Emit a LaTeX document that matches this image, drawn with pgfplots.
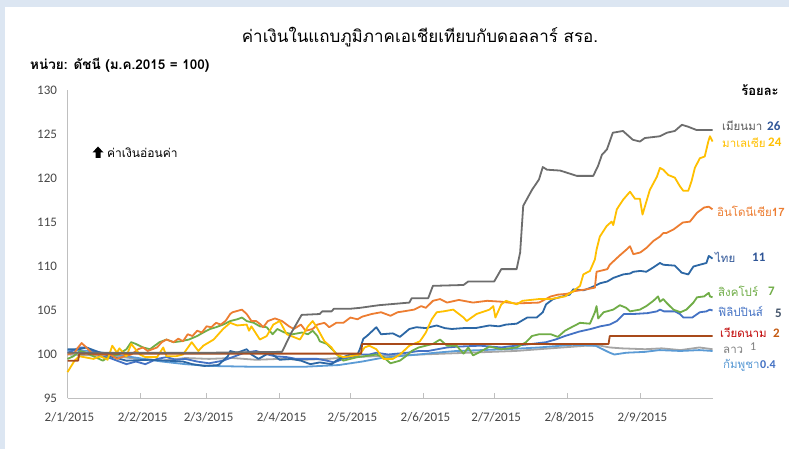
\documentclass[border=0pt]{standalone}
\usepackage{pgfplots}
\pgfplotsset{compat=1.18}
\usepackage{fontspec}
\setmainfont{Carlito}
\newfontfamily\thai[Script=Thai]{Loma}
\definecolor{bgblue}{HTML}{DCE6F2}
\definecolor{cMM}{HTML}{6D6D6D}
\definecolor{cMY}{HTML}{FFC000}
\definecolor{cID}{HTML}{ED7D31}
\definecolor{cTH}{HTML}{2C67A5}
\definecolor{cSG}{HTML}{70AD47}
\definecolor{cPH}{HTML}{4472C4}
\definecolor{cVN}{HTML}{A84A1A}
\definecolor{cLA}{HTML}{A5A5A5}
\definecolor{cKH}{HTML}{5B9BD5}
\definecolor{tMM}{HTML}{595959}
\definecolor{tDB}{HTML}{2F5597}
\definecolor{tVN}{HTML}{C00000}
\definecolor{tVN2}{HTML}{C55A11}
\definecolor{tPH}{HTML}{44546A}
\definecolor{tLA}{HTML}{7F7F7F}
\definecolor{axgray}{HTML}{BFBFBF}
\begin{document}
\begin{tikzpicture}[x=1pt,y=1pt]
\fill[bgblue] (0,0) rectangle (789,449);
\fill[white] (5,0) rectangle (789,442);
\begin{axis}[
  at={(67.5pt,50.5pt)}, anchor=south west,
  scale only axis, width=645.5pt, height=308pt,
  xmin=0, xmax=273.8, ymin=95, ymax=130,
  axis x line=bottom, axis y line=left,
  axis line style={draw=axgray, line width=0.9pt, -},
  xtick={0,31,59,90,120,151,181,212,243},
  xticklabels={2/1/2015,2/2/2015,2/3/2015,2/4/2015,2/5/2015,2/6/2015,2/7/2015,2/8/2015,2/9/2015},
  ytick={95,100,...,130},
  /pgf/number format/assume math mode=true,
  tick label style={font=\fontsize{13}{13}\selectfont, text=black!72},
  xticklabel style={yshift=-10pt, xshift=2pt},
  yticklabel style={xshift=-7pt},
  x tick style={draw=axgray, line width=0.8pt},
  major tick length=5pt, tick align=inside,
  y tick style={draw=none},
  clip=false,
  every axis plot/.append style={line width=1.8pt, line join=round, mark=none},
]
% Lao
\addplot[cLA] coordinates {(0,100.0)(10,99.9)(20,99.8)(30,99.5)(40,99.3)(50,99.6)(60,99.5)(70,99.6)(80,99.4)(90,99.5)(100,99.4)(110,99.5)(120,99.7)(130,99.8)(140,99.9)(150,100.0)(160,100.1)(170,100.2)(180,100.3)(190,100.4)(200,100.6)(210,100.8)(220,101.0)(226,101.0)(230,100.8)(235,100.7)(245,100.6)(252,100.7)(260,100.5)(268,100.8)(273.6,100.6)};
% Cambodia
\addplot[cKH] coordinates {(0,100.5)(10,100.4)(20,100.0)(30,99.6)(40,99.2)(50,98.9)(60,98.7)(80,98.6)(100,98.6)(115,98.8)(125,99.2)(133,99.6)(140,99.8)(149,100.0)(156,100.2)(165,100.4)(186,100.6)(200,100.8)(214,101.1)(224,101.0)(227,100.6)(230,100.2)(232,100.0)(237,100.2)(245,100.3)(251,100.5)(260,100.4)(268,100.5)(273.6,100.4)};
% Philippines
\addplot[cPH] coordinates {(0,100.2)(3,100.5)(5,100.8)(8,100.8)(11,100.4)(14,99.8)(18,99.6)(21,99.3)(25,98.9)(29,99.2)(33,98.9)(38,99.5)(42,99.7)(46,99.4)(50,99.5)(55,99.2)(60,99.0)(66,99.3)(70,99.7)(75,100.2)(80,100.4)(85,100.0)(88,99.8)(93,99.7)(97,99.5)(102,99.5)(106,99.5)(110,99.3)(113,99.1)(117,99.5)(120,99.7)(124,100.0)(128,100.0)(131,100.2)(136,100.0)(144,100.2)(149,100.4)(153,100.4)(157,100.6)(161,100.8)(166,100.9)(175,101.0)(184,100.8)(190,101.0)(197,101.2)(203,101.4)(207,101.7)(211,102.1)(217,102.6)(222,102.9)(226,103.2)(230,103.4)(233,103.8)(236,104.6)(240,104.6)(246,104.7)(250,104.9)(251.3,105.1)(253,104.9)(257.6,104.9)(259.8,104.6)(261.2,104.2)(265,104.2)(268.2,104.8)(271,104.9)(272.5,105.1)(273.6,105.0)};
% Singapore
\addplot[cSG] coordinates {(0,99.5)(2.5,99.8)(5.3,100.4)(8,100.2)(11,99.8)(15,99.3)(18,99.8)(21.5,100.0)(25,100.6)(27,101.4)(29,101.2)(32,100.8)(35,100.6)(39,101.4)(42,101.7)(45,101.4)(48,101.5)(51.5,101.7)(55,102.1)(57.6,102.5)(60.5,102.9)(63,103.1)(66,103.4)(69,103.8)(72,104.0)(74,104.2)(76,103.8)(79,103.6)(81.6,103.2)(84.5,103.1)(87,102.3)(89,102.9)(92,102.5)(95.5,102.3)(99.5,102.5)(102,102.3)(104,102.7)(106,102.1)(107,101.5)(110,101.2)(113,100.4)(115,99.8)(117,99.3)(120,99.5)(123,99.7)(126,99.8)(131,100.0)(134,99.7)(137,99.0)(141,99.3)(143.5,99.8)(146,100.4)(149,100.8)(152,101.0)(155,101.2)(158,101.7)(161,101.0)(165,101.0)(168,100.1)(170,100.8)(172,99.9)(175,100.3)(179,100.9)(184,100.6)(190.5,100.8)(194.5,101.4)(197,102.1)(200,102.3)(205,102.3)(208,102.0)(211,102.7)(214.5,103.2)(217.4,103.6)(221.6,103.5)(223.7,104.8)(224.4,105.5)(225.1,104.1)(227.4,104.8)(231.5,105.1)(234.3,105.6)(237,105.3)(238.6,104.9)(242.8,105.1)(245.5,105.5)(248.5,106.1)(250.5,106.6)(251.3,106.0)(252.7,106.3)(254,105.9)(257,105.1)(260,104.8)(262.5,105.1)(265.5,105.9)(267,106.5)(270,106.6)(272,107.0)(272.5,106.6)(273.6,106.5)};
% Thailand
\addplot[cTH] coordinates {(0,100.6)(5,100.6)(8,100.8)(11,100.5)(14,100.2)(18,99.8)(25,99.3)(35,99.4)(42,99.3)(49,99.2)(53,98.9)(58,98.7)(64,98.8)(68,99.8)(69,100.4)(72,100.2)(76,100.6)(78,100.0)(81,99.5)(85,100.1)(87,100.0)(90,99.4)(95,99.5)(99,99.3)(103,98.9)(107,99.1)(112,98.9)(114,99.3)(117,99.7)(120,100.0)(123,100.0)(124,100.6)(125.5,101.8)(127,102.1)(131,103.1)(133,102.3)(138,102.4)(141,102.0)(145,102.9)(148,103.1)(152,103.0)(156.6,103.3)(160,103.0)(163,102.9)(168,103.0)(173,103.0)(179,103.3)(183,103.2)(186,103.4)(190.5,103.5)(195,104.2)(199,104.2)(201.6,104.8)(203,105.7)(206,106.3)(210,106.6)(213,106.8)(214.5,107.4)(219,107.3)(222,107.6)(226,108.1)(229,108.3)(231.5,108.7)(235.7,109.1)(238.6,109.2)(240,109.4)(243,109.5)(245.5,109.4)(248.5,109.9)(251.3,110.4)(252.7,110.2)(257.6,110.1)(260.5,109.3)(263.3,109.1)(265.5,110.0)(268.2,110.2)(271,110.4)(272,111.2)(273.6,110.9)};
% Indonesia
\addplot[cID] coordinates {(0,100.0)(3,100.2)(4.5,100.8)(6,101.3)(8,100.8)(11,100.0)(18,100.0)(21,99.5)(24,99.8)(27,100.0)(30,100.6)(32,100.8)(34,100.4)(38,100.8)(40,101.4)(42,101.7)(45,101.4)(47,101.8)(49,101.5)(51,102.3)(53,102.1)(55,102.7)(57,102.5)(59,103.2)(61,103.1)(63,103.6)(65,103.4)(67,103.8)(69,104.6)(70,104.8)(74,105.1)(76,104.6)(78,103.8)(80,103.8)(82,103.4)(83,103.1)(85,103.8)(88,104.1)(91,103.8)(94,103.2)(96,102.9)(99,103.4)(101,102.7)(104,102.9)(106,103.4)(109,103.6)(111,103.1)(114,103.6)(117,103.6)(120,104.2)(123,104.0)(125,104.3)(129,104.6)(133,104.8)(137,104.4)(140,104.8)(142.5,104.9)(147,105.1)(150,105.5)(152,105.3)(155,106.1)(158,106.3)(161,105.9)(166,106.2)(172,105.9)(178,106.1)(184,106.0)(190,105.8)(200,105.9)(205,106.6)(208,106.8)(212,106.9)(215,107.2)(220,107.4)(223.7,107.6)(224.4,109.4)(229,109.7)(230,110.2)(234,111.2)(237,111.9)(238.6,112.3)(240,111.4)(243,111.6)(245.5,112.1)(248.5,112.9)(251.3,113.4)(252.7,113.8)(254,113.8)(257,114.2)(261,115.0)(264,115.1)(267,116.1)(270,116.7)(272,116.8)(272.5,116.7)(273.6,116.5)};
% Malaysia
\addplot[cMY] coordinates {(0,98.0)(3,99.3)(5,99.8)(11,99.5)(14,99.8)(17,99.4)(19,101.0)(21,100.2)(22,100.7)(25,99.8)(27,101.2)(30.7,100.0)(33,99.7)(38,99.7)(40.6,100.8)(42,99.8)(46,99.8)(49,100.0)(52.7,101.4)(55.5,100.4)(57.6,101.0)(62,101.7)(66,102.9)(69,103.6)(72,103.3)(76,103.4)(77,102.7)(78,103.2)(81.6,101.7)(84.5,102.1)(87.3,103.4)(90,103.8)(93,102.3)(98.6,101.7)(102,103.2)(104,103.8)(105.7,103.1)(109,101.5)(112,100.8)(114,100.0)(117,99.7)(120,99.8)(124,100.0)(126,100.8)(128,101.0)(131,100.6)(134,99.5)(138,99.5)(141,100.0)(145,101.0)(149.5,101.5)(152,102.5)(154.5,104.0)(156.6,104.8)(159.4,104.9)(163.6,105.1)(168,104.2)(169.3,103.8)(173.5,104.6)(179,105.1)(180.6,105.5)(181.5,104.2)(184,105.7)(186,106.1)(190.5,105.7)(193,106.1)(200,106.3)(205,106.3)(211,106.6)(214.5,107.2)(217.4,107.8)(218.8,109.1)(221.6,109.5)(223.7,110.8)(224.4,111.9)(225.8,113.4)(228.7,114.6)(230.8,115.1)(231.5,114.7)(233,116.5)(235.7,117.6)(238.6,118.5)(240.7,117.7)(242.8,117.7)(243.9,115.9)(244.9,116.8)(247,118.7)(250,120.2)(251.3,121.2)(252.7,121.0)(254.8,120.4)(257.6,120.1)(259.8,119.1)(261.2,118.6)(263.3,118.6)(264.7,119.7)(266.1,121.2)(268.2,122.3)(270.3,122.5)(271.8,124.2)(272.5,124.8)(273.6,124.2)};
% Vietnam
\addplot[cVN] coordinates {(0,99.3)(4.5,99.3)(5,100.1)(124.5,100.1)(125,101.2)(229.5,101.2)(230,102.1)(273.6,102.1)};
% Myanmar
\addplot[cMM] coordinates {(0,100.2)(30,100.2)(60,100.2)(90,100.3)(91,100.3)(95,102.5)(99.3,104.5)(107,104.6)(108,104.9)(112,104.9)(113,105.2)(120,105.2)(124,105.3)(132,105.6)(145,105.9)(146,106.4)(153,106.4)(155,107.8)(168,107.9)(170,108.3)(181,108.3)(184,109.7)(190.5,109.7)(192,111.6)(193.3,116.9)(197,118.7)(200,119.9)(201.6,121.3)(203.4,121.0)(209,120.9)(216,120.3)(223,120.3)(225,121.4)(226.7,122.7)(228.8,123.3)(231.3,125.2)(235.6,125.4)(239.8,124.4)(242.8,124.2)(244.9,124.6)(251.3,124.8)(254.2,125.2)(257.6,125.4)(260.6,126.1)(263.1,125.9)(266.9,125.5)(273.6,125.5)};
\end{axis}
% title and notes
\node[font=\thai\fontsize{17}{17}\selectfont] at (420,412) {ค่าเงินในแถบภูมิภาคเอเชียเทียบกับดอลลาร์ สรอ.};
\node[anchor=west, inner sep=0, font=\thai\bfseries\fontsize{13.5}{13.5}\selectfont] at (30,384) {หน่วย: ดัชนี (ม.ค.2015 = 100)};
\node[font=\thai\bfseries\fontsize{13}{13}\selectfont] at (760,359) {ร้อยละ};
\fill[black] (98,302.5) -- (92.5,296.5) -- (95.5,296.5) -- (95.5,291) -- (100.5,291) -- (100.5,296.5) -- (103.5,296.5) -- cycle;
\node[anchor=west, inner sep=0, font=\thai\fontsize{12}{12}\selectfont] at (107,296) {ค่าเงินอ่อนค่า};
% right labels
\begin{scope}[every node/.style={anchor=west, inner sep=0, font=\thai\fontsize{11.5}{11.5}\selectfont}]
\node[text=tMM] at (722,323) {เมียนมา};
\node[text=tDB, font=\bfseries\fontsize{13}{13}\selectfont] at (767,323) {26};
\node[text=cMY] at (722,306.3) {มาเลเซีย};
\node[text=cMY, font=\bfseries\fontsize{13}{13}\selectfont] at (768,306.3) {24};
\node[text=cID] at (717,237.3) {อินโดนีเซีย{\bfseries 17}};
\node[text=tDB] at (715,191.3) {ไทย};
\node[text=tDB, font=\bfseries\fontsize{13}{13}\selectfont] at (752,191.3) {11};
\node[text=cSG] at (718,157.3) {สิงคโปร์};
\node[text=cSG, font=\bfseries\fontsize{13}{13}\selectfont] at (768,157.3) {7};
\node[text=cPH] at (718,137.3) {ฟิลิปปินส์};
\node[text=tPH, font=\bfseries\fontsize{13}{13}\selectfont] at (775,136) {5};
\node[text=tVN] at (720,116) {เวียดนาม};
\node[text=tVN2, font=\bfseries\fontsize{13}{13}\selectfont] at (773,116) {2};
\node[text=tLA] at (723,99) {ลาว};
\node[text=tLA, font=\fontsize{12}{12}\selectfont] at (750,102) {1};
\node[text=cKH] at (723,84) {กัมพูชา};
\node[text=cPH, font=\bfseries\fontsize{12}{12}\selectfont] at (760,84) {0.4};
\end{scope}
\pgfresetboundingbox
\path (0,0) rectangle (789,449);
\end{tikzpicture}
\end{document}
